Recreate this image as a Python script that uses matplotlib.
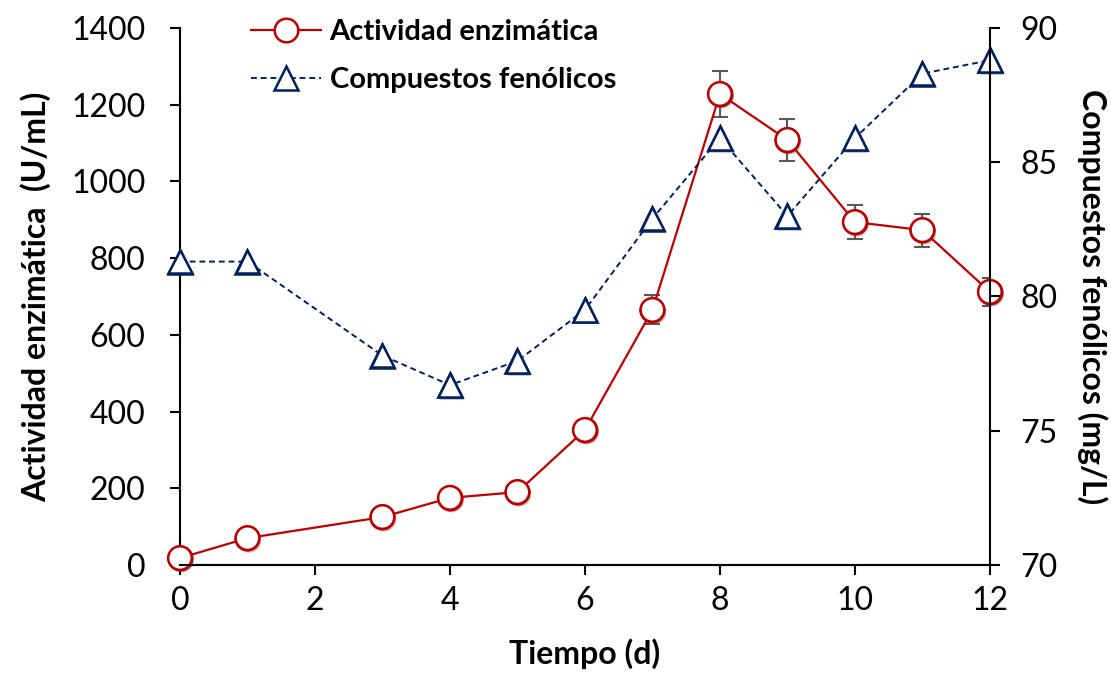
import numpy as np
import matplotlib
matplotlib.use("Agg")
import matplotlib.pyplot as plt
from matplotlib import patheffects as pe

plt.rcParams["font.family"] = ["Lato", "DejaVu Sans"]

# tiempo de cultivo (d)
dias = [0, 1, 3, 4, 5, 6, 7, 8, 9, 10, 11, 12]
# actividad enzimatica (U/mL) y desviacion
actividad = [18, 70, 125, 175, 190, 352, 665, 1228, 1108, 894, 873, 712]
act_err = [0, 0, 0, 0, 0, 0, 38, 60, 55, 45, 43, 36]
# compuestos fenolicos (mg/L)
fenoles = [81.3, 81.3, 77.8, 76.7, 77.6, 79.5, 82.9, 85.9, 83.0, 85.9, 88.3, 88.8]

RED = "#C00000"
NAVY = "#002060"
shadow = [pe.SimplePatchShadow(offset=(1.5, -2), alpha=0.3), pe.Normal()]

fig = plt.figure(figsize=(11.11, 6.83), dpi=100)
ax = fig.add_axes([0.162, 0.1728, 0.729, 0.7862])
ax2 = ax.twinx()

ax.errorbar(dias, actividad, yerr=act_err, fmt="none", ecolor="#595959",
            elinewidth=1.5, capsize=6, capthick=1.5, zorder=2)
l1, = ax.plot(dias, actividad, color=RED, lw=1.6, marker="o", ms=17,
              mfc="white", mec=RED, mew=1.8, zorder=3, clip_on=False,
              label="Actividad enzimática")
# sombra de los marcadores
m1, = ax.plot(dias, actividad, ls="none", marker="o", ms=17, mfc="white",
              mec=RED, mew=1.8, zorder=4, clip_on=False)
m1.set_path_effects(shadow)

l2, = ax2.plot(dias, fenoles, color=NAVY, lw=1.4, ls=(0, (3, 2)),
               marker="^", ms=17, mfc="white", mec=NAVY, mew=1.8,
               clip_on=False, label="Compuestos fenólicos")
m2, = ax2.plot(dias, fenoles, ls="none", marker="^", ms=17, mfc="white",
               mec=NAVY, mew=1.8, clip_on=False)
m2.set_path_effects(shadow)

ax.set_xlim(0, 12)
ax.set_ylim(0, 1400)
ax2.set_ylim(70, 90)
ax.set_xticks(range(0, 13, 2))
ax.set_yticks(range(0, 1401, 200))
ax2.set_yticks(range(70, 91, 5))

for a in (ax, ax2):
    a.spines["top"].set_visible(False)
    for sp in a.spines.values():
        sp.set_linewidth(1.5)
    a.tick_params(labelsize=23, width=1.5, length=7, direction="out")
ax.spines["right"].set_visible(False)
ax2.spines["left"].set_visible(False)
ax.tick_params(axis="y", pad=18)
ax.tick_params(axis="x", pad=8)
ax2.tick_params(axis="y", pad=15)

ax.set_xlabel("Tiempo (d)", fontsize=23, fontweight="bold", labelpad=16)
ax.set_ylabel("Actividad enzimática  (U/mL)", fontsize=23, fontweight="bold",
              labelpad=14)
ax2.set_ylabel("Compuestos fenólicos (mg/L)", fontsize=23, fontweight="bold",
               rotation=270, labelpad=36)

ax.legend(handles=[l1, l2], loc="upper left", bbox_to_anchor=(0.055, 1.065),
          frameon=False, prop={"size": 21, "weight": "bold"},
          handlelength=2.4, handletextpad=0.3, labelspacing=0.75)

fig.savefig("out.png", dpi=100)
